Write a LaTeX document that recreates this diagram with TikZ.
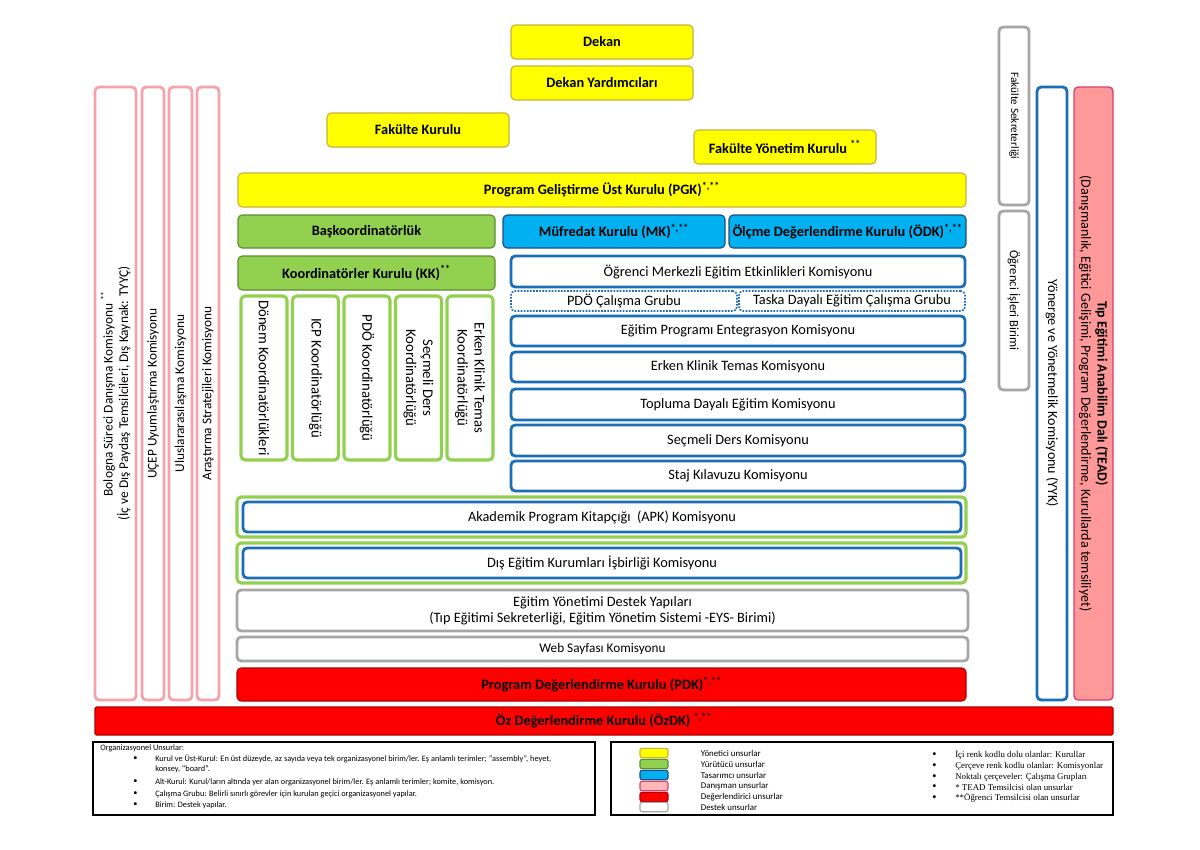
\documentclass[tikz,border=0pt]{standalone}
\usepackage{fontspec}
\setmainfont{Carlito}
\newfontfamily\lejantserif{Liberation Serif}
\usetikzlibrary{positioning}

\definecolor{sari}{HTML}{FFFF00}
\definecolor{sarikenar}{HTML}{C8B23A}
\definecolor{yesil}{HTML}{92D050}
\definecolor{yesilkenar}{HTML}{5E8C31}
\definecolor{mavi}{HTML}{00B0F0}
\definecolor{mavikenar}{HTML}{1F4E79}
\definecolor{komkenar}{HTML}{1B6DB5}
\definecolor{pembe}{HTML}{F4A3AA}
\definecolor{teadfill}{HTML}{FF9999}
\definecolor{teadkenar}{HTML}{D9406A}
\definecolor{kirmizi}{HTML}{FF0000}
\definecolor{kirmizikenar}{HTML}{B00000}
\definecolor{gri}{HTML}{A6A6A6}

\begin{document}
\begin{tikzpicture}[
  x=0.025cm,y=-0.025cm,
  sz/.style 2 args={minimum width=#1*0.025cm,minimum height=#2*0.025cm},
  kutu/.style={rounded corners=3pt,inner sep=1pt,align=center,font=\fontsize{10.2}{11.5}\selectfont},
  yonetici/.style={kutu,fill=sari,draw=sarikenar,line width=0.8pt,font=\fontsize{10.2}{11.5}\selectfont\bfseries},
  yurutucu/.style={kutu,fill=yesil,draw=yesilkenar,line width=0.8pt,font=\fontsize{10.2}{11.5}\selectfont\bfseries},
  tasarim/.style={kutu,fill=mavi,draw=mavikenar,line width=0.8pt,font=\fontsize{10.2}{11.5}\selectfont\bfseries},
  koordkutu/.style={kutu,draw=yesil,line width=2.2pt,font=\fontsize{10.5}{12}\selectfont},
  komisyon/.style={kutu,draw=komkenar,line width=2pt},
  calisma/.style={kutu,draw=komkenar,line width=1.2pt,densely dotted},
  yesilcerceve/.style={kutu,draw=yesil,line width=2.2pt},
  danisman/.style={kutu,draw=pembe,line width=2pt,font=\fontsize{9.5}{11}\selectfont},
  destek/.style={kutu,draw=gri,line width=2pt},
  degerlendirici/.style={kutu,fill=kirmizi,draw=kirmizikenar,line width=0.8pt,font=\fontsize{10.2}{11.5}\selectfont\bfseries},
  lejantkutu/.style={draw=black,line width=1pt,inner sep=0pt},
  lejant/.style={anchor=west,inner sep=0pt,font=\fontsize{5.9}{7}\selectfont},
  ornek/.style={sz={28}{9},rounded corners=1.5pt,line width=0.8pt}
]
  \useasboundingbox[fill=white] (0,0) rectangle (1200,849);

  % yonetici unsurlar
  \node[yonetici,sz={182}{34}] (dekan) at (602,42) {Dekan};
  \node[yonetici,sz={182}{34}] (dekanyrd) at (602,83) {Dekan Yardımcıları};
  \node[yonetici,sz={182}{34}] (fakkurul) at (418,130) {Fakülte Kurulu};
  \node[yonetici,sz={182}{34}] (fyk) at (785,147) {Fakülte Yönetim Kurulu \textsuperscript{**}};
  \node[yonetici,sz={728}{34}] (pgk) at (602,190) {Program Geliştirme Üst Kurulu (PGK)\textsuperscript{*,**}};

  % yurutucu ve tasarimci kurullar
  \node[yurutucu,sz={257}{33}] (baskoord) at (366.5,231.5) {Başkoordinatörlük};
  \node[tasarim,sz={222}{33}] (mk) at (614,231.5) {Müfredat Kurulu (MK)\textsuperscript{*,**}};
  \node[tasarim,sz={237}{33}] (odk) at (847.5,231.5) {Ölçme Değerlendirme Kurulu (ÖDK)\textsuperscript{*,**}};
  \node[yurutucu,sz={257}{34}] (kk) at (366.5,273) {Koordinatörler Kurulu (KK)\textsuperscript{**}};

  % koordinatorlukler
  \node[koordkutu,sz={164}{46},rotate=-90] (donem) at (264,378) {Dönem Koordinatörlükleri};
  \node[koordkutu,sz={164}{46},rotate=-90] (icp) at (315.5,378) {ICP Koordinatörlüğü};
  \node[koordkutu,sz={164}{46},rotate=-90] (pdokoord) at (367,378) {PDÖ Koordinatörlüğü};
  \node[koordkutu,sz={164}{46},rotate=-90] (secmelikoord) at (418.5,378) {Seçmeli Ders\\Koordinatörlüğü};
  \node[koordkutu,sz={164}{46},rotate=-90] (erkenkoord) at (470,378) {Erken Klinik Temas\\Koordinatörlüğü};

  % komisyonlar
  \node[komisyon,sz={454}{31}] (omee) at (738,271.5) {Öğrenci Merkezli Eğitim Etkinlikleri Komisyonu};
  \node[calisma,sz={226}{20}] (pdocg) at (624,301) {PDÖ Çalışma Grubu};
  \node[calisma,sz={226}{20}] (taskacg) at (852,301) {Taska Dayalı Eğitim Çalışma Grubu};
  \node[komisyon,sz={454}{30}] (entegr) at (738,331) {Eğitim Programı Entegrasyon Komisyonu};
  \node[komisyon,sz={454}{30}] (erken) at (738,367) {Erken Klinik Temas Komisyonu};
  \node[komisyon,sz={454}{31}] (topluma) at (738,404.5) {Topluma Dayalı Eğitim Komisyonu};
  \node[komisyon,sz={454}{31}] (secmeli) at (738,440.5) {Seçmeli Ders Komisyonu};
  \node[komisyon,sz={454}{30}] (staj) at (738,476) {Staj Kılavuzu Komisyonu};

  \node[yesilcerceve,sz={729}{40}] (apkdis) at (601.5,517) {};
  \node[komisyon,sz={718}{30}] (apk) at (602,517) {Akademik Program Kitapçığı~~(APK) Komisyonu};
  \node[yesilcerceve,sz={729}{40}] (disdis) at (601.5,563) {};
  \node[komisyon,sz={718}{30}] (dis) at (602,563) {Dış Eğitim Kurumları İşbirliği Komisyonu};

  % destek ve degerlendirme
  \node[destek,sz={731}{41}] (eyd) at (602.5,610.5) {Eğitim Yönetimi Destek Yapıları\\(Tıp Eğitimi Sekreterliği, Eğitim Yönetim Sistemi -EYS- Birimi)};
  \node[destek,sz={731}{24},font=\fontsize{9.4}{10.5}\selectfont] (web) at (602.5,649) {Web Sayfası Komisyonu};
  \node[degerlendirici,sz={729}{33}] (pdk) at (601.5,684.5) {Program Değerlendirme Kurulu (PDK)\textsuperscript{*,**}};
  \node[degerlendirici,sz={1018}{28},rounded corners=1pt] (ozdk) at (604,721) {Öz Değerlendirme Kurulu (ÖzDK) \textsuperscript{*,**}};

  % danisman unsurlar (sol)
  \node[danisman,sz={613}{41},rotate=90] (bologna) at (115.5,393.5) {Bologna Süreci Danışma Komisyonu \textsuperscript{**}\\(İç ve Dış Paydaş Temsilcileri, Dış Kaynak: TYYÇ)};
  \node[danisman,sz={613}{22},rotate=90] (ucep) at (153,393.5) {UÇEP Uyumlaştırma Komisyonu};
  \node[danisman,sz={613}{23},rotate=90] (ulus) at (180.5,393.5) {Uluslararasılaşma Komisyonu};
  \node[danisman,sz={613}{22},rotate=90] (arastirma) at (208,393.5) {Araştırma Stratejileri Komisyonu};

  % sag sutun
  \node[destek,sz={178}{30},rotate=-90,font=\fontsize{8}{9.5}\selectfont] (faksek) at (1014,116) {Fakülte Sekreterliği};
  \node[destek,sz={179}{30},rotate=-90,font=\fontsize{9}{10.5}\selectfont] (ogris) at (1014,300.5) {Öğrenci İşleri Birimi};
  \node[komisyon,sz={613}{30},rotate=-90,font=\fontsize{10}{11.5}\selectfont] (yyk) at (1052,393.5) {Yönerge ve Yönetmelik Komisyonu (YYK)};
  \node[kutu,fill=teadfill,draw=teadkenar,line width=1pt,sz={613}{39},rotate=-90,font=\fontsize{10}{11.5}\selectfont] (tead) at (1093.5,393.5)
    {\textbf{Tıp Eğitimi Anabilim Dalı (TEAD)}\\(Danışmanlık, Eğitici Gelişimi, Program Değerlendirme, Kurullarda temsiliyet)};

  % lejant: organizasyonel unsurlar
  \node[lejantkutu,sz={502}{73}] (orgkutu) at (344,778.5) {};
  \node[lejant] (orgbaslik) at (100,748) {Organizasyonel Unsurlar:};
  \node[lejant] at (133,759) {\textbullet};
  \node[lejant,align=left,anchor=north west] (kurul) at (155,755) {Kurul ve Üst-Kurul: En üst düzeyde, az sayıda veya tek organizasyonel birim/ler. Eş anlamlı terimler; “assembly”, heyet,\\konsey, “board”.};
  \node[lejant] at (133,782) {\textbullet};
  \node[lejant] (altkurul) at (155,782) {Alt-Kurul: Kurul/ların altında yer alan organizasyonel birim/ler. Eş anlamlı terimler; komite, komisyon.};
  \node[lejant] at (133,794) {\textbullet};
  \node[lejant] (calismagr) at (155,794) {Çalışma Grubu: Belirli sınırlı görevler için kurulan geçici organizasyonel yapılar.};
  \node[lejant] at (133,805) {\textbullet};
  \node[lejant] (birim) at (155,805) {Birim: Destek yapılar.};

  % lejant: renkler
  \node[lejantkutu,sz={502}{73}] (renkkutu) at (862,778.5) {};
  \node[ornek,fill=sari,draw=sarikenar] (lsari) at (654,753) {};
  \node[ornek,fill=yesil,draw=yesilkenar] (lyesil) at (654,764) {};
  \node[ornek,fill=mavi,draw=mavikenar] (lmavi) at (654,775) {};
  \node[ornek,fill=teadfill!70!white,draw=teadkenar] (lpembe) at (654,786) {};
  \node[ornek,fill=kirmizi,draw=kirmizikenar] (lkirmizi) at (654,797) {};
  \node[ornek,fill=white,draw=gri] (lgri) at (654,807) {};
  \node[lejant,right=0.8cm of lsari,font=\fontsize{6.3}{7.5}\selectfont] {Yönetici unsurlar};
  \node[lejant,right=0.8cm of lyesil,font=\fontsize{6.3}{7.5}\selectfont] {Yürütücü unsurlar};
  \node[lejant,right=0.8cm of lmavi,font=\fontsize{6.3}{7.5}\selectfont] {Tasarımcı unsurlar};
  \node[lejant,right=0.8cm of lpembe,font=\fontsize{6.3}{7.5}\selectfont] {Danışman unsurlar};
  \node[lejant,right=0.8cm of lkirmizi,font=\fontsize{6.3}{7.5}\selectfont] {Değerlendirici unsurlar};
  \node[lejant,right=0.8cm of lgri,font=\fontsize{6.3}{7.5}\selectfont] {Destek unsurlar};

  \foreach \yy/\metin in {755/İçi renk kodlu dolu olanlar: Kurullar,
                          766/Çerçeve renk kodlu olanlar: Komisyonlar,
                          777/Noktalı çerçeveler: Çalışma Grupları,
                          787/* TEAD Temsilcisi olan unsurlar,
                          798/**Öğrenci Temsilcisi olan unsurlar}{
    \node[lejant] at (932,\yy) {\textbullet};
    \node[lejant,font=\fontsize{6.3}{7.5}\lejantserif] at (955,\yy) {\metin};
  }
\end{tikzpicture}
\end{document}
